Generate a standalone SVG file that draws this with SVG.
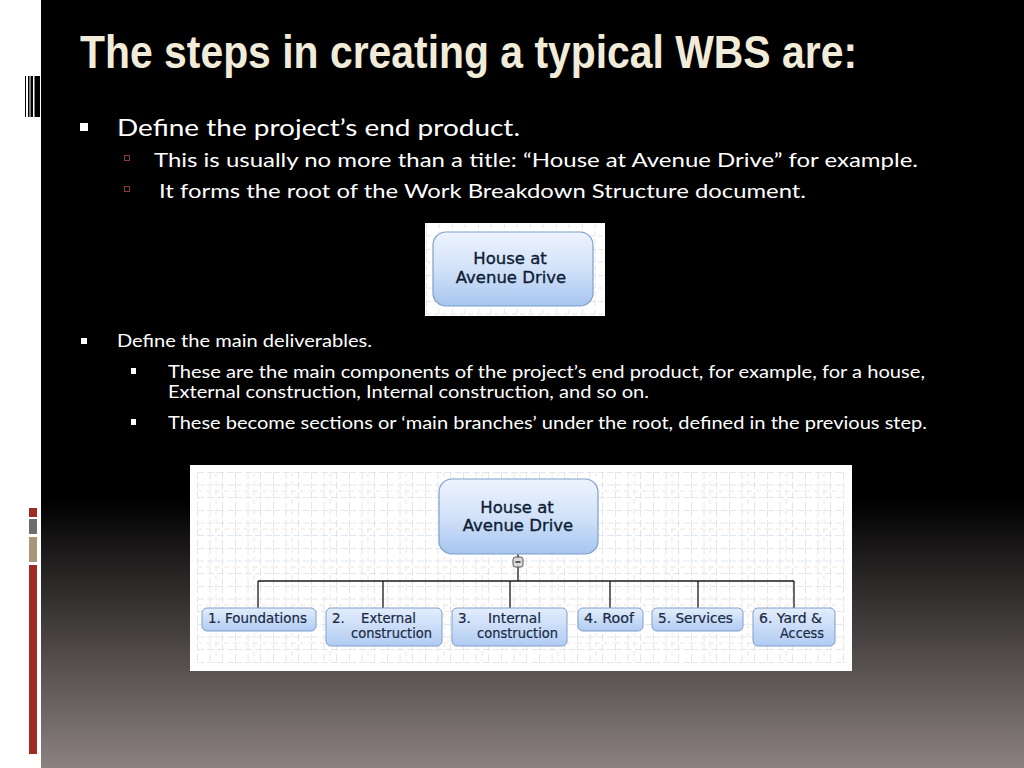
<svg xmlns="http://www.w3.org/2000/svg" width="1024" height="768" viewBox="0 0 1024 768">
<style>
.title{font-family:"Liberation Sans Narrow","Liberation Sans",sans-serif;font-weight:bold;font-size:46px;fill:#f1ecd9}
.b1{font-family:Lato,"Open Sans",sans-serif;fill:#ffffff}
.node-txt{font-family:"DejaVu Sans",Verdana,sans-serif;font-size:16.5px;fill:#0e1c34;stroke:#0e1c34;stroke-width:0.35;text-anchor:middle}
.box-txt{font-family:"DejaVu Sans",Verdana,sans-serif;font-size:13.5px;fill:#1a2a44;stroke:#1a2a44;stroke-width:0.2}
.box{fill:url(#boxg);stroke:#7f9fcb;stroke-width:1}
.root{fill:url(#rootg);stroke:#7f9fcb;stroke-width:1.2}
.conn{stroke:#1a1a1a;stroke-width:1.3;fill:none}
</style>
<defs>
<linearGradient id="bg" x1="0" y1="0" x2="0" y2="768" gradientUnits="userSpaceOnUse">
<stop offset="0" stop-color="#000000"/>
<stop offset="0.65" stop-color="#000000"/>
<stop offset="1" stop-color="#8b8180"/>
</linearGradient>
<linearGradient id="rootg" x1="0" y1="0" x2="0" y2="1">
<stop offset="0" stop-color="#eef4fd"/>
<stop offset="0.5" stop-color="#d2e2f9"/>
<stop offset="1" stop-color="#a7c5ef"/>
</linearGradient>
<linearGradient id="boxg" x1="0" y1="0" x2="0" y2="1">
<stop offset="0" stop-color="#e4eefc"/>
<stop offset="1" stop-color="#b0cbf2"/>
</linearGradient>
<pattern id="grid" x="197" y="472" width="38" height="38" patternUnits="userSpaceOnUse">
<path d="M0.5 0V38M13 0V38M25.5 0V38" stroke="#e4e6ec" stroke-width="1" stroke-dasharray="7 3"/>
<path d="M0 0.5H38M0 13H38M0 25.5H38" stroke="#e4e6ec" stroke-width="1" stroke-dasharray="7 3"/>
<path d="M19 0V38M0 19H38" stroke="#f5e4db" stroke-width="1" stroke-dasharray="5 4"/>
</pattern>
<pattern id="grid2" x="426" y="223" width="26" height="26" patternUnits="userSpaceOnUse">
<path d="M0.5 0V26M13 0V26M0 0.5H26M0 13H26" stroke="#e4e6ec" stroke-width="1" stroke-dasharray="5 3"/>
</pattern>
</defs>

<!-- background -->
<rect x="0" y="0" width="1024" height="768" fill="url(#bg)"/>
<rect x="0" y="0" width="41" height="768" fill="#ffffff"/>
<g id="decor">
<rect x="25" y="76" width="1" height="41" fill="#000"/>
<rect x="28" y="76" width="1.5" height="41" fill="#000"/>
<rect x="30.5" y="76" width="2.5" height="41" fill="#000"/>
<rect x="34.5" y="76" width="5.5" height="41" fill="#000"/>
<rect x="29" y="508" width="8" height="9" fill="#a02a24"/>
<rect x="29" y="519" width="8" height="15" fill="#6e6c6e"/>
<rect x="29" y="537" width="8" height="25" fill="#a89676"/>
<rect x="29" y="565" width="8" height="189" fill="#a02a24"/>
</g>

<!-- title -->
<text class="title" x="80" y="68" textLength="777" lengthAdjust="spacingAndGlyphs">The steps in creating a typical WBS are:</text>

<!-- bullets section 1 -->
<g id="bullets1">
<rect x="80" y="123" width="8" height="8" fill="#ffffff"/>
<text class="b1" x="117" y="136" font-size="24" textLength="403" lengthAdjust="spacingAndGlyphs">Define the project’s end product.</text>
<rect x="124.5" y="155.5" width="5" height="5" fill="none" stroke="#8a3a2c" stroke-width="1"/>
<text class="b1" x="154" y="167" font-size="20" textLength="764" lengthAdjust="spacingAndGlyphs">This is usually no more than a title: “House at Avenue Drive” for example.</text>
<rect x="124.5" y="186.5" width="5" height="5" fill="none" stroke="#8a3a2c" stroke-width="1"/>
<text class="b1" x="159" y="198" font-size="20" textLength="647" lengthAdjust="spacingAndGlyphs">It forms the root of the Work Breakdown Structure document.</text>
</g>

<!-- small image -->
<g id="root-small">
<rect x="425" y="223" width="180" height="93" fill="#ffffff"/>
<rect x="426" y="224" width="178" height="91" fill="url(#grid2)"/>
<rect class="root" x="433" y="232" width="160" height="74" rx="13"/>
<text class="node-txt" x="510" y="264">House at</text>
<text class="node-txt" x="511" y="283">Avenue Drive</text>
</g>

<!-- bullets section 2 -->
<g id="bullets2">
<rect x="81" y="338" width="6" height="6" fill="#ffffff"/>
<text class="b1" x="117" y="347" font-size="17.5" textLength="255" lengthAdjust="spacingAndGlyphs">Define the main deliverables.</text>
<rect x="131" y="368" width="5" height="6" fill="#ffffff"/>
<text class="b1" x="168" y="378" font-size="17.5" textLength="757" lengthAdjust="spacingAndGlyphs">These are the main components of the project’s end product, for example, for a house,</text>
<text class="b1" x="168" y="398" font-size="17.5" textLength="481" lengthAdjust="spacingAndGlyphs">External construction, Internal construction, and so on.</text>
<rect x="131" y="419" width="5" height="6" fill="#ffffff"/>
<text class="b1" x="168" y="429" font-size="17.5" textLength="759" lengthAdjust="spacingAndGlyphs">These become sections or ‘main branches’ under the root, defined in the previous step.</text>
</g>

<!-- big image -->
<rect x="190" y="465" width="662" height="206" fill="#ffffff"/>
<rect x="197" y="472" width="648" height="191" fill="url(#grid)"/>

<g id="connectors">
<path class="conn" d="M518 554V557M518 567V581M258 581H794M258 581V608M383 581V608M510 581V608M610 581V608M698 581V608M794 581V608"/>
</g>

<g id="root">
<rect class="root" x="439" y="479" width="159" height="75" rx="13"/>
<text class="node-txt" x="517" y="513">House at</text>
<text class="node-txt" x="518" y="531">Avenue Drive</text>
</g>
<g id="collapse">
<rect x="513" y="557" width="10" height="10" rx="2.5" fill="#d9d9d9" stroke="#555" stroke-width="1"/>
<path d="M515.5 562H520.5" stroke="#222" stroke-width="1.4"/>
</g>

<g id="n1">
<rect class="box" x="202" y="608" width="114" height="23" rx="5"/>
<text class="box-txt" x="208" y="623" textLength="99" lengthAdjust="spacingAndGlyphs">1. Foundations</text>
</g>
<g id="n2">
<rect class="box" x="326" y="608" width="116" height="38" rx="5"/>
<text class="box-txt" x="332" y="623">2.</text>
<text class="box-txt" x="361" y="623" textLength="55" lengthAdjust="spacingAndGlyphs">External</text>
<text class="box-txt" x="351" y="638" textLength="81" lengthAdjust="spacingAndGlyphs">construction</text>
</g>
<g id="n3">
<rect class="box" x="452" y="608" width="115" height="38" rx="5"/>
<text class="box-txt" x="458" y="623">3.</text>
<text class="box-txt" x="488" y="623" textLength="53" lengthAdjust="spacingAndGlyphs">Internal</text>
<text class="box-txt" x="477" y="638" textLength="81" lengthAdjust="spacingAndGlyphs">construction</text>
</g>
<g id="n4">
<rect class="box" x="578" y="608" width="65" height="23" rx="5"/>
<text class="box-txt" x="584" y="623" textLength="50" lengthAdjust="spacingAndGlyphs">4. Roof</text>
</g>
<g id="n5">
<rect class="box" x="652" y="608" width="91" height="23" rx="5"/>
<text class="box-txt" x="658" y="623" textLength="75" lengthAdjust="spacingAndGlyphs">5. Services</text>
</g>
<g id="n6">
<rect class="box" x="753" y="608" width="82" height="38" rx="5"/>
<text class="box-txt" x="759" y="623" textLength="63" lengthAdjust="spacingAndGlyphs">6. Yard &amp;</text>
<text class="box-txt" x="780" y="638" textLength="44" lengthAdjust="spacingAndGlyphs">Access</text>
</g>
</svg>
